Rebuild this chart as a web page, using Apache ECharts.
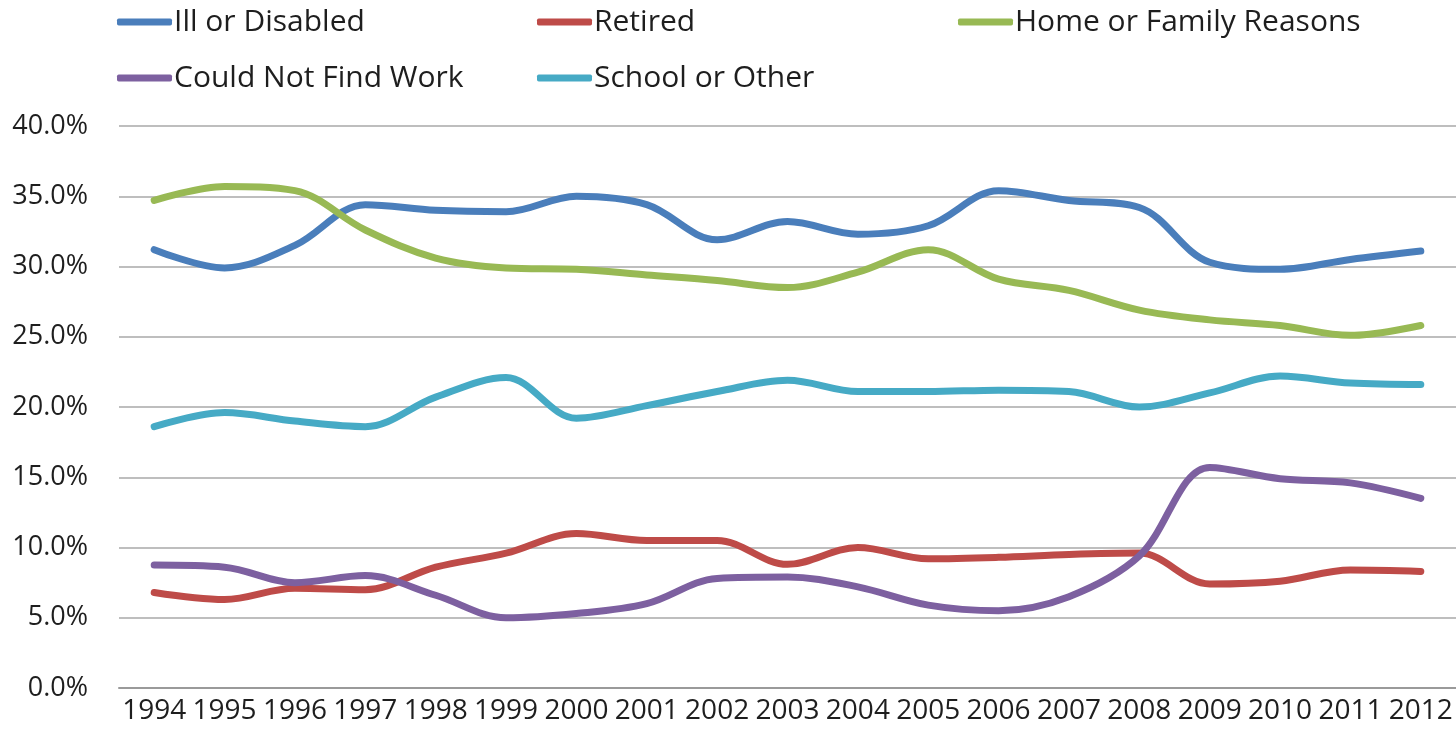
<!DOCTYPE html>
<html>
<head>
<meta charset="utf-8">
<script src="https://cdn.jsdelivr.net/npm/echarts@6/dist/echarts.min.js"></script>
<style>html,body{margin:0;padding:0;background:#fff}#c{width:1456px;height:736px}</style>
</head>
<body>
<div id="c"></div>
<script>
const years = ['1994','1995','1996','1997','1998','1999','2000','2001','2002','2003','2004','2005','2006','2007','2008','2009','2010','2011','2012'];
const illOrDisabled = [31.2,29.9,31.5,34.4,34.0,33.9,35.0,34.4,31.9,33.2,32.3,32.9,35.4,34.7,34.2,30.3,29.8,30.5,31.1];
const retired = [6.8,6.3,7.1,7.0,8.6,9.6,11.0,10.5,10.5,8.8,10.0,9.2,9.3,9.5,9.6,7.4,7.6,8.4,8.3];
const homeOrFamily = [34.7,35.7,35.4,32.6,30.6,29.9,29.8,29.4,29.0,28.5,29.6,31.2,29.1,28.3,26.9,26.2,25.8,25.1,25.8];
const couldNotFindWork = [8.75,8.6,7.5,8.0,6.6,5.0,5.3,6.0,7.8,7.9,7.2,5.9,5.5,6.5,9.4,15.7,14.9,14.6,13.5];
const schoolOrOther = [18.6,19.6,19.0,18.6,20.7,22.1,19.2,20.1,21.1,21.9,21.1,21.1,21.2,21.1,20.0,21.0,22.2,21.7,21.6];
const yTicks = [0,5,10,15,20,25,30,35,40];

const FONT = '"Open Sans", sans-serif';
const TXT = '#1e1e1e';
const names = ['Ill or Disabled','Retired','Home or Family Reasons','Could Not Find Work','School or Other'];
const colors = ['#4a7ebb','#be4b48','#98b954','#7d60a0','#46aac5'];
const datas = [illOrDisabled, retired, homeOrFamily, couldNotFindWork, schoolOrOther];
const legendPos = [[117,7],[537,7],[958,7],[117,63],[537,63]];

const chart = echarts.init(document.getElementById('c'));
chart.setOption({
  animation: false,
  backgroundColor: '#fff',
  legend: names.map((n,i)=>({
    data:[n], left: legendPos[i][0], top: legendPos[i][1], padding:0,
    icon:'roundRect', itemWidth:55, itemHeight:7, itemGap:0,
    textStyle:{fontFamily:FONT, fontSize:30, color:TXT, padding:[0,0,0,-3]},
    selectedMode:false
  })),
  grid: {left:119, right:-4, top:126, bottom:48, containLabel:false},
  xAxis: {
    type:'category', data: years, boundaryGap:true,
    axisLine:{lineStyle:{color:'#9a9a9a', width:2}},
    axisTick:{alignWithLabel:true, length:6, lineStyle:{color:'#9a9a9a', width:1.5}},
    axisLabel:{fontFamily:FONT, fontSize:28, color:TXT, margin:9, interval:0},
    splitLine:{show:false}
  },
  yAxis: {
    type:'value', min:0, max:40, interval:5,
    axisLine:{show:false}, axisTick:{show:false},
    axisLabel:{fontFamily:FONT, fontSize:27, color:TXT, margin:31, formatter:v=>v.toFixed(1)+'%'},
    splitLine:{lineStyle:{color:'#a8a8a8', width:1.5}}
  },
  series: names.map((n,i)=>({
    name:n, type:'line', data:datas[i], smooth:0.35, symbol:'none',
    lineStyle:{color:colors[i], width:7, cap:'round'},
    itemStyle:{color:colors[i]}
  }))
});
</script>
</body>
</html>
